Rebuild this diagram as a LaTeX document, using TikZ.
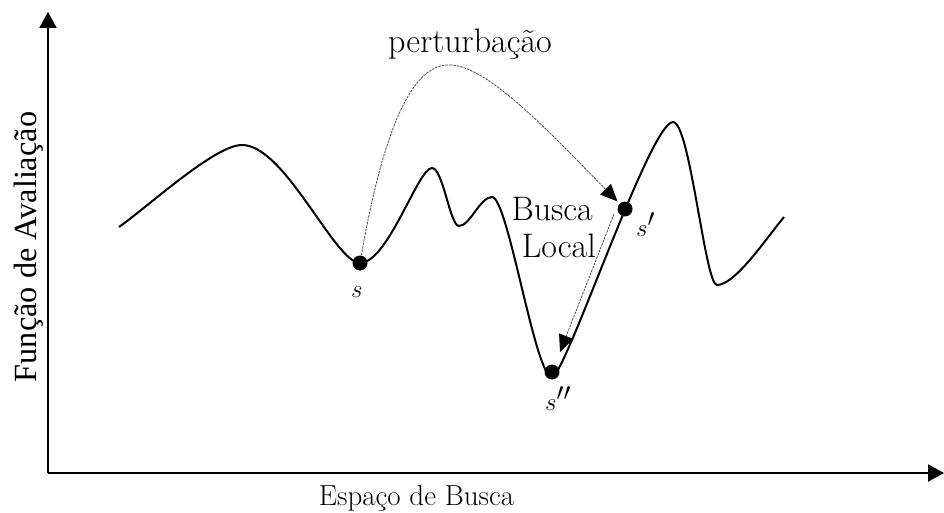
\documentclass[tikz,border=0pt]{standalone}
\usepackage{fontspec}
\newfontfamily\timesfont{Liberation Serif}
\usetikzlibrary{arrows.meta}
\tikzset{
  dotnode/.style={circle,fill=black,inner sep=0pt,minimum size=15pt},
  landscape/.style={line width=2pt,line join=round},
  axisline/.style={line width=2pt,-{Triangle[length=16pt,width=17pt]}},
  movearrow/.style={line width=0.8pt,black!70,dash pattern=on 2.5pt off 1pt,-{Triangle[length=17pt,width=15pt,black]}},
  lbl/.style={inner sep=0pt,font=\fontsize{34}{40}\selectfont},
  mathlbl/.style={inner sep=0pt,font=\fontsize{33}{40}\selectfont},
}
\begin{document}
\begin{tikzpicture}[x=1pt,y=-1pt]
\useasboundingbox (0,0) rectangle (944,513);
% axes
\coordinate (origin) at (48,473);
\coordinate (ytop) at (48,12);
\coordinate (xend) at (944,473);
\draw[axisline] (origin) -- (ytop);
\draw[axisline] (origin) -- (xend);
\node[inner sep=0pt,font=\timesfont\fontsize{32.3}{38}\selectfont,rotate=90,anchor=base] (ylab) at (36,247) {Função de Avaliação};
\node[inner sep=0pt,font=\fontsize{29}{34}\selectfont,anchor=base] (xlab) at (416.5,505) {Espaço de Busca};
% landscape
\draw[landscape] (119,227)
  .. controls (150,205) and (215,145) .. (242,145)
  .. controls (285,145) and (335,263) .. (360,263)
  .. controls (388,263) and (418,168) .. (432,168)
  .. controls (443,168) and (450,226) .. (459,226)
  .. controls (470,226) and (480,197) .. (492,197)
  .. controls (508,197) and (535,377) .. (552,377)
  .. controls (565,377) and (650,122) .. (673,122)
  .. controls (690,122) and (705,285) .. (717,285)
  .. controls (735,285) and (765,240) .. (784,217);
% solutions
\node[dotnode] (s) at (360,263) {};
\node[dotnode] (sp) at (625,209) {};
\node[dotnode] (spp) at (552,372) {};
\node[mathlbl,anchor=base west] (slab) at (351,297) {$s$};
\node[mathlbl,anchor=base west] (splab) at (636,236) {$s'$};
\node[mathlbl,anchor=base west] (spplab) at (545,410) {$s''$};
% perturbation
\coordinate (ptop) at (450,65);
\draw[movearrow,-] (s) .. controls (385,120) and (415,63) .. (ptop);
\draw[movearrow,shorten >=3pt] (ptop) .. controls (488,65) and (555,138) .. (sp);
\node[lbl,anchor=base] (pertlab) at (470,53) {perturbação};
% local search
\coordinate (lsA) at (614,214);
\coordinate (lsB) at (560,352);
\draw[movearrow] (lsA) -- (lsB);
\node[lbl,anchor=base east] (busca) at (593,220) {Busca};
\node[lbl,anchor=base east] (local) at (596,257) {Local};
\end{tikzpicture}
\end{document}
